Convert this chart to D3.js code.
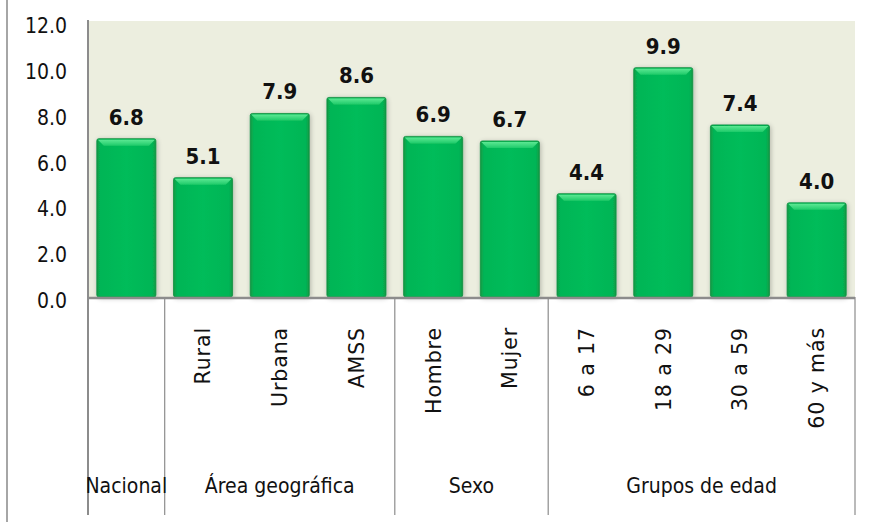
<!DOCTYPE html>
<html>
<head>
<meta charset="utf-8">
<script src="https://cdn.jsdelivr.net/npm/d3@7/dist/d3.min.js"></script>
<style>
  html, body { margin: 0; padding: 0; background: #ffffff; }
  svg { display: block; }
</style>
</head>
<body>
<svg id="chart" width="872" height="522"></svg>
<script>
// ---- data ----
const categories = ["Nacional", "Rural", "Urbana", "AMSS", "Hombre", "Mujer", "6 a 17", "18 a 29", "30 a 59", "60 y más"];
const values = [6.8, 5.1, 7.9, 8.6, 6.9, 6.7, 4.4, 9.9, 7.4, 4.0];
const groupNames = ["Nacional", "Área geográfica", "Sexo", "Grupos de edad"];
const groupSizes = [1, 3, 2, 4];
const yTicks = [0, 2, 4, 6, 8, 10, 12];

(function () {
// ---- layout ----
const svg = d3.select("#chart");
const pLeft = 88, pRight = 855, pTop = 21, pBottom = 297, tableBottom = 515;
const narrow = "'Liberation Sans Narrow', 'Arial Narrow', 'DejaVu Sans Condensed', sans-serif";

const x = d3.scaleBand().domain(categories).range([pLeft, pRight]).paddingInner(0.23).paddingOuter(0.115);
const y = d3.scaleLinear().domain([0, 12]).range([294.5, 19.5]);

const defs = svg.append("defs");
const hg = defs.append("linearGradient").attr("id", "barH").attr("x1", 0).attr("x2", 1).attr("y1", 0).attr("y2", 0);
[[0, "#0a9944"], [0.06, "#05b556"], [0.5, "#06bc5a"], [0.94, "#05b556"], [1, "#0a9944"]]
  .forEach(([o, c]) => hg.append("stop").attr("offset", o).attr("stop-color", c));
const tg = defs.append("linearGradient").attr("id", "barTop").attr("x1", 0).attr("x2", 0).attr("y1", 0).attr("y2", 1);
[[0, "#5ce893"], [1, "#1fcb6a"]].forEach(([o, c]) => tg.append("stop").attr("offset", o).attr("stop-color", c));
const sh = defs.append("filter").attr("id", "shadow").attr("x", "-20%").attr("y", "-20%").attr("width", "140%").attr("height", "140%");
sh.append("feGaussianBlur").attr("in", "SourceAlpha").attr("stdDeviation", 2.5).attr("result", "b");
sh.append("feOffset").attr("in", "b").attr("dx", 1).attr("dy", 1).attr("result", "o");
sh.append("feComponentTransfer").attr("in", "o").attr("result", "s").append("feFuncA").attr("type", "linear").attr("slope", 0.25);
const fm = sh.append("feMerge");
fm.append("feMergeNode").attr("in", "s");
fm.append("feMergeNode").attr("in", "SourceGraphic");

// outer left border
svg.append("line").attr("x1", 7).attr("x2", 7).attr("y1", 0).attr("y2", 522)
  .attr("stroke", "#a6a6a6").attr("stroke-width", 2);

// plot background
svg.append("rect").attr("x", pLeft).attr("y", pTop).attr("width", pRight - pLeft).attr("height", pBottom - pTop)
  .attr("fill", "#eceedf");

// bars
const bars = svg.append("g").selectAll("g").data(categories).join("g").attr("filter", "url(#shadow)");
bars.append("rect")
  .attr("x", d => x(d)).attr("width", x.bandwidth())
  .attr("y", (d, i) => y(values[i])).attr("height", (d, i) => pBottom - y(values[i]))
  .attr("rx", 2).attr("fill", "url(#barH)").attr("stroke", "#0b8f3f").attr("stroke-width", 0.8);
bars.append("path")
  .attr("d", (d, i) => {
    const x0 = x(d), x1 = x(d) + x.bandwidth(), yt = y(values[i]), b = 7;
    return `M${x0 + 1},${yt + 1} L${x1 - 1},${yt + 1} L${x1 - b},${yt + b} L${x0 + b},${yt + b} Z`;
  })
  .attr("fill", "url(#barTop)");

// value labels
svg.append("g").selectAll("text").data(categories).join("text")
  .attr("x", d => x(d) + x.bandwidth() / 2)
  .attr("y", (d, i) => y(values[i]) - 14)
  .attr("text-anchor", "middle")
  .attr("font-family", narrow).attr("font-weight", "bold").attr("font-size", 22).attr("fill", "#111")
  .text((d, i) => values[i].toFixed(1));

// y axis
const yAxis = svg.append("g").attr("transform", `translate(${pLeft},0)`)
  .call(d3.axisLeft(y).tickValues(yTicks).tickFormat(d3.format(".1f")).tickSize(0).tickPadding(21));
yAxis.select(".domain").remove();
yAxis.selectAll("text").attr("font-family", narrow).attr("font-size", 21).attr("fill", "#111").attr("dy", "0.62em");

// axis lines
svg.append("line").attr("x1", pLeft).attr("x2", pLeft).attr("y1", pTop - 1).attr("y2", tableBottom)
  .attr("stroke", "#8c8c8c").attr("stroke-width", 2);
svg.append("line").attr("x1", pLeft).attr("x2", pRight).attr("y1", pBottom + 1).attr("y2", pBottom + 1)
  .attr("stroke", "#8c8c8c").attr("stroke-width", 2.5);

// group separators and labels
const step = x.step();
let idx = 0;
const groups = groupNames.map((g, i) => {
  const start = idx; idx += groupSizes[i];
  return { name: g, x0: pLeft + start * step, x1: pLeft + idx * step };
});
svg.append("g").selectAll("line").data(groups).join("line")
  .attr("x1", d => d.x1).attr("x2", d => d.x1).attr("y1", pBottom).attr("y2", tableBottom)
  .attr("stroke", "#8c8c8c").attr("stroke-width", 1.2);
svg.append("g").selectAll("text").data(groups).join("text")
  .attr("x", d => (d.x0 + d.x1) / 2).attr("y", 493)
  .attr("text-anchor", "middle")
  .attr("font-family", narrow).attr("font-size", 21).attr("fill", "#111")
  .text(d => d.name);

// rotated category labels (not for Nacional)
svg.append("g").selectAll("text").data(categories.slice(1)).join("text")
  .attr("transform", d => `translate(${x(d) + x.bandwidth() / 2},327) rotate(-90)`)
  .attr("dy", "0.36em")
  .attr("text-anchor", "end")
  .attr("font-family", "'DejaVu Sans', Verdana, sans-serif").attr("font-size", 20.5)
  .attr("letter-spacing", 0.9).attr("fill", "#111")
  .text(d => d);
})();
</script>
</body>
</html>
